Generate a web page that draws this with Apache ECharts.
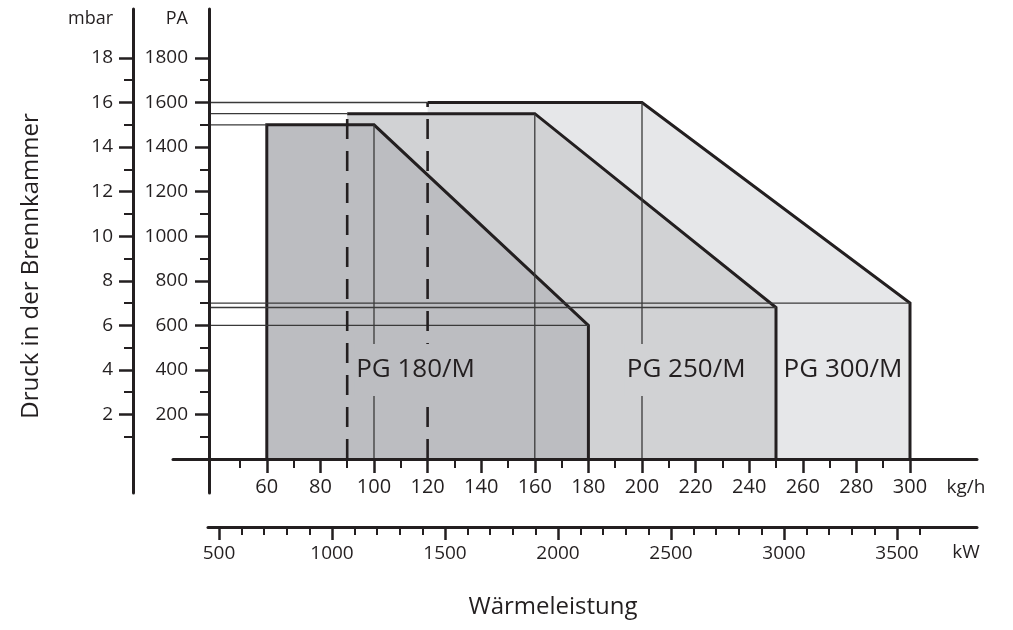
<!DOCTYPE html>
<html><head><meta charset="utf-8">
<script src="https://cdn.jsdelivr.net/npm/echarts@6/dist/echarts.min.js"></script>
<style>html,body{margin:0;padding:0;background:#fff}#c{width:1013px;height:630px}</style>
</head><body><div id="c"></div>
<script>
// ---- data ----
const burners = ['PG 180/M', 'PG 250/M', 'PG 300/M'];
const fieldLeftKgh = [60, 90, 120];      // minimum output (kg/h)
const fieldKneeKgh = [100, 160, 200];    // end of max-pressure plateau (kg/h)
const fieldRightKgh = [180, 250, 300];   // maximum output (kg/h)
const fieldTopMbar = [15, 15.5, 16];     // max chamber pressure (mbar)
const fieldEndMbar = [6, 6.8, 7];        // pressure at max output (mbar)
const leftEdgeDashed = [false, true, true];
const labelKgh = [115.5, 216.5, 275];
const labelMbar = [4, 4, 4];
const paAxisKgh = 38.4;                  // where reference lines start (PA axis)
const fillColors = ['#bcbdc1', '#d1d2d4', '#e6e7e9'];

const kghMajor = [60, 80, 100, 120, 140, 160, 180, 200, 220, 240, 260, 280, 300];
const kghMinor = [50, 70, 90, 110, 130, 150, 170, 190, 210, 230, 250, 270, 290];
const kwMajor = [500, 1000, 1500, 2000, 2500, 3000, 3500];
const kwMinor = [600, 700, 800, 900, 1100, 1200, 1300, 1400, 1600, 1700, 1800, 1900, 2100, 2200, 2300, 2400, 2600, 2700, 2800, 2900, 3100, 3200, 3300, 3400, 3600];
const mbarMajor = [2, 4, 6, 8, 10, 12, 14, 16, 18];
const mbarMinor = [1, 3, 5, 7, 9, 11, 13, 15, 17];
const paMajor = [200, 400, 600, 800, 1000, 1200, 1400, 1600, 1800];
const paMinor = [100, 300, 500, 700, 900, 1100, 1300, 1500, 1700];

const kghRange = [25, 325];
const kwRange = [451.3, 3854];
const mbarRange = [-1.526, 20.197];

// ---- style ----
const ink = '#231f20';
const font = '"Open Sans", "DejaVu Sans", sans-serif';
const fmt = v => String(v);

function majorAxis(extra) {
  return Object.assign({
    type: 'value', splitLine: { show: false },
    axisLine: { onZero: false, lineStyle: { color: ink, width: 3 } },
    axisTick: { length: 14, lineStyle: { color: ink, width: 2.5 } },
    axisLabel: { color: ink, fontFamily: font, fontSize: 19, formatter: fmt },
    nameTextStyle: { color: ink, fontFamily: font, fontSize: 19 },
    z: 6
  }, extra);
}
function minorAxis(extra) {
  return Object.assign({
    type: 'value', splitLine: { show: false },
    axisLine: { show: false, onZero: false },
    axisLabel: { show: false },
    axisTick: { length: 9, lineStyle: { color: ink, width: 2 } },
    z: 6
  }, extra);
}

const series = [];
// fields, back to front
[2, 1, 0].forEach(i => {
  const L = fieldLeftKgh[i], K = fieldKneeKgh[i], R = fieldRightKgh[i];
  const T = fieldTopMbar[i], E = fieldEndMbar[i];
  const pts = [[L, T], [K, T], [R, E], [R, 0]];
  if (!leftEdgeDashed[i]) pts.unshift([L, 0]);
  series.push({
    type: 'line', name: burners[i], data: pts, symbol: 'none', silent: true, z: 2,
    lineStyle: { color: ink, width: 3, join: 'miter' },
    areaStyle: { color: fillColors[i], opacity: 1 }
  });
});
// thin reference lines and dashed left edges
fieldLeftKgh.forEach((L, i) => {
  const K = fieldKneeKgh[i], R = fieldRightKgh[i];
  const T = fieldTopMbar[i], E = fieldEndMbar[i];
  const thin = { type: 'line', symbol: 'none', silent: true, z: 3, lineStyle: { color: '#3a3a3a', width: 1.3 } };
  series.push(Object.assign({}, thin, { data: [[paAxisKgh, T], [L, T]] }));
  series.push(Object.assign({}, thin, { data: [[paAxisKgh, E], [R, E]] }));
  series.push(Object.assign({}, thin, { data: [[K, 0], [K, T]] }));
  if (leftEdgeDashed[i]) {
    series.push({ type: 'line', symbol: 'none', silent: true, z: 3,
      data: [[L, 0], [L, T]],
      lineStyle: { color: ink, width: 2.6, type: [20, 12] } });
  }
});
// burner labels
series.push({
  type: 'scatter', symbolSize: 1, silent: true, z: 4,
  itemStyle: { color: 'rgba(0,0,0,0)', opacity: 1 },
  data: burners.map((b, i) => ({
    value: [labelKgh[i], labelMbar[i]], name: b,
    label: { backgroundColor: fillColors[i] }
  })),
  label: {
    show: true, position: 'inside', formatter: p => p.name, opacity: 1,
    color: ink, fontFamily: font, fontSize: 26, lineHeight: 26, padding: [13, 2, 13, 2]
  }
});

const option = {
  animation: false,
  backgroundColor: '#fff',
  grid: [
    { left: 173, right: 36, top: 9, bottom: 137 },
    { left: 208, right: 36, top: 507, bottom: 103 }
  ],
  xAxis: [
    majorAxis({ gridIndex: 0, min: kghRange[0], max: kghRange[1], position: 'bottom', offset: -34,
      axisTick: { customValues: kghMajor, length: 14, lineStyle: { color: ink, width: 2.5 } },
      axisLabel: { customValues: kghMajor, margin: 18, color: ink, fontFamily: font, fontSize: 20, formatter: fmt } }),
    minorAxis({ gridIndex: 0, min: kghRange[0], max: kghRange[1], position: 'bottom', offset: -34,
      axisTick: { customValues: kghMinor, length: 9, lineStyle: { color: ink, width: 2 } } }),
    majorAxis({ gridIndex: 1, min: kwRange[0], max: kwRange[1], position: 'bottom',
      axisTick: { customValues: kwMajor, length: 13, lineStyle: { color: ink, width: 2.5 } },
      axisLabel: { customValues: kwMajor, margin: 17, color: ink, fontFamily: font, fontSize: 19, formatter: fmt } }),
    minorAxis({ gridIndex: 1, min: kwRange[0], max: kwRange[1], position: 'bottom',
      axisTick: { customValues: kwMinor, length: 8, lineStyle: { color: ink, width: 2 } } })
  ],
  yAxis: [
    majorAxis({ gridIndex: 0, min: mbarRange[0], max: mbarRange[1], position: 'left', offset: 40,
      axisTick: { customValues: mbarMajor, length: 14, lineStyle: { color: ink, width: 2.5 } },
      axisLabel: { customValues: mbarMajor, margin: 20, color: ink, fontFamily: font, fontSize: 19, formatter: fmt },
      name: 'mbar', nameLocation: 'end', nameGap: -10,
      nameTextStyle: { color: ink, fontFamily: font, fontSize: 18, align: 'right', verticalAlign: 'middle', padding: [0, 20, 0, 0] } }),
    minorAxis({ gridIndex: 0, min: mbarRange[0], max: mbarRange[1], position: 'left', offset: 40,
      axisTick: { customValues: mbarMinor, length: 9, lineStyle: { color: ink, width: 2 } } }),
    majorAxis({ gridIndex: 0, min: mbarRange[0] * 100, max: mbarRange[1] * 100, position: 'left', offset: -36,
      axisTick: { customValues: paMajor, length: 14, lineStyle: { color: ink, width: 2.5 } },
      axisLabel: { customValues: paMajor, margin: 21, color: ink, fontFamily: font, fontSize: 19, formatter: fmt },
      name: 'PA', nameLocation: 'end', nameGap: -10,
      nameTextStyle: { color: ink, fontFamily: font, fontSize: 18, align: 'right', verticalAlign: 'middle', padding: [0, 21, 0, 0] } }),
    minorAxis({ gridIndex: 0, min: mbarRange[0] * 100, max: mbarRange[1] * 100, position: 'left', offset: -36,
      axisTick: { customValues: paMinor, length: 9, lineStyle: { color: ink, width: 2 } } }),
    { gridIndex: 1, type: 'value', show: false }
  ],
  graphic: [
    { type: 'text', x: 31, y: 266, rotation: Math.PI / 2, silent: true,
      style: { text: 'Druck in der Brennkammer', font: '24px ' + font, fill: ink, align: 'center', verticalAlign: 'middle' } },
    { type: 'text', x: 553, y: 607, silent: true,
      style: { text: 'Wärmeleistung', font: '24px ' + font, fill: ink, align: 'center', verticalAlign: 'middle' } },
    { type: 'text', x: 966, y: 488, silent: true,
      style: { text: 'kg/h', font: '19px ' + font, fill: ink, align: 'center', verticalAlign: 'middle' } },
    { type: 'text', x: 966, y: 553, silent: true,
      style: { text: 'kW', font: '19px ' + font, fill: ink, align: 'center', verticalAlign: 'middle' } }
  ],
  series: series
};

const chart = echarts.init(document.getElementById('c'), null, { renderer: 'canvas' });
chart.setOption(option);
</script>
</body></html>
